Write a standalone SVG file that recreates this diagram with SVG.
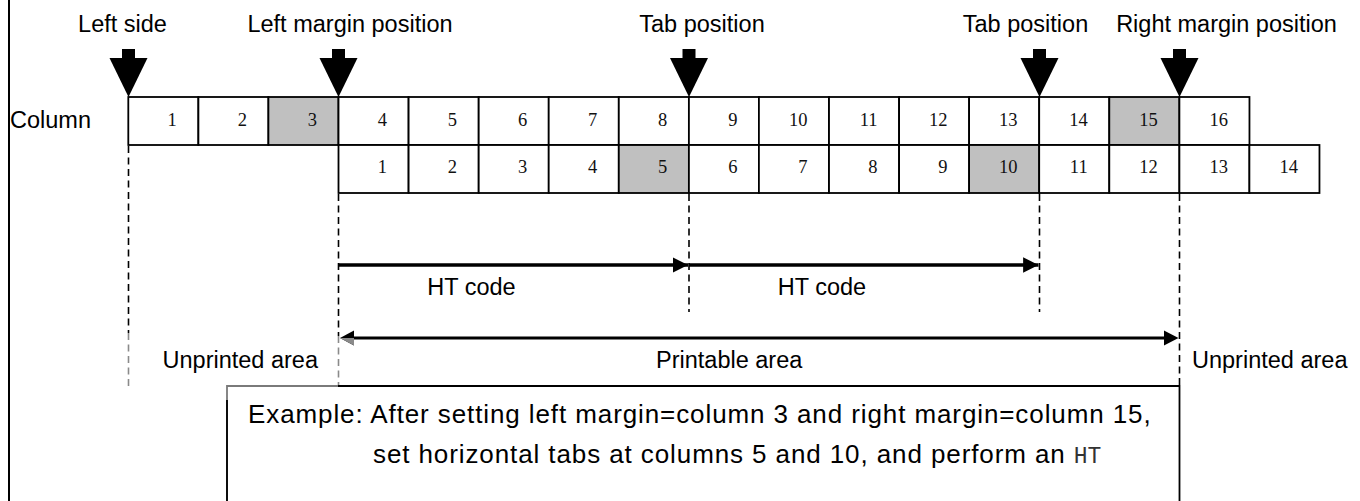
<svg xmlns="http://www.w3.org/2000/svg" width="1360" height="501" viewBox="0 0 1360 501">
  <style>
    .lbl { font-family: "Liberation Sans", Arial, sans-serif; font-size: 23.5px; fill: #000; }
    .num { font-family: "Liberation Serif", "Times New Roman", serif; font-size: 18.5px; fill: #111; text-anchor: end; }
    .cell { fill: #fff; stroke: #000; stroke-width: 1.8; }
    .cell.hl { fill: #c0c0c0; }
    .mark { fill: #000; }
    .dash { fill: none; stroke: #000; stroke-width: 1.6; stroke-dasharray: 7 4.5; }
    .dash.faint { stroke: #8a8a8a; }
    .span { fill: none; stroke: #000; stroke-width: 3.5; }
    .note { font-family: "Liberation Sans", Arial, sans-serif; font-size: 26px; letter-spacing: 0.9px; fill: #000; }
    .mono { font-family: "Liberation Mono", "Courier New", monospace; font-size: 23px; letter-spacing: 0px; fill: #333; }
  </style>
  <defs>
    <marker id="head" viewBox="0 0 10 10" refX="10" refY="5" markerWidth="4.4" markerHeight="4.6" orient="auto" markerUnits="strokeWidth">
      <path d="M0,0 L10,5 L0,10 Z" fill="#000"/>
    </marker>
  </defs>
  <rect width="1360" height="501" fill="#fff"/>

  <!-- page edge -->
  <line x1="9" y1="0" x2="9" y2="501" stroke="#000" stroke-width="2"/>

  <!-- position labels -->
  <g id="labels">
    <text class="lbl" x="122.5" y="32" text-anchor="middle">Left side</text>
    <text class="lbl" x="350" y="32" text-anchor="middle">Left margin position</text>
    <text class="lbl" x="702" y="32" text-anchor="middle">Tab position</text>
    <text class="lbl" x="1025.5" y="32" text-anchor="middle">Tab position</text>
    <text class="lbl" x="1226.5" y="32" text-anchor="middle">Right margin position</text>
    <text class="lbl" x="10" y="128">Column</text>
  </g>

  <!-- down pointers -->
  <g id="pointers">
    <g id="ptr-left-side"><rect class="mark" x="122" y="49" width="13" height="10"/><polygon class="mark" points="109.5,58 147.5,58 128.5,97"/></g>
    <g id="ptr-left-margin"><rect class="mark" x="332" y="49" width="13" height="10"/><polygon class="mark" points="319.5,58 357.5,58 338.5,97"/></g>
    <g id="ptr-tab-1"><rect class="mark" x="682.5" y="49" width="13" height="10"/><polygon class="mark" points="670,58 708,58 689,97"/></g>
    <g id="ptr-tab-2"><rect class="mark" x="1033" y="49" width="13" height="10"/><polygon class="mark" points="1020.5,58 1058.5,58 1039.5,97"/></g>
    <g id="ptr-right-margin"><rect class="mark" x="1173" y="49" width="13" height="10"/><polygon class="mark" points="1160.5,58 1198.5,58 1179.5,97"/></g>
  </g>

  <!-- column row -->
  <g id="column-row">
    <rect class="cell" x="128.3" y="97" width="70.07" height="48"/>
    <rect class="cell" x="198.4" y="97" width="70.07" height="48"/>
    <rect class="cell hl" x="268.4" y="97" width="70.07" height="48"/>
    <rect class="cell" x="338.5" y="97" width="70.07" height="48"/>
    <rect class="cell" x="408.6" y="97" width="70.07" height="48"/>
    <rect class="cell" x="478.7" y="97" width="70.07" height="48"/>
    <rect class="cell" x="548.7" y="97" width="70.07" height="48"/>
    <rect class="cell" x="618.8" y="97" width="70.07" height="48"/>
    <rect class="cell" x="688.9" y="97" width="70.07" height="48"/>
    <rect class="cell" x="758.9" y="97" width="70.07" height="48"/>
    <rect class="cell" x="829.0" y="97" width="70.07" height="48"/>
    <rect class="cell" x="899.1" y="97" width="70.07" height="48"/>
    <rect class="cell" x="969.1" y="97" width="70.07" height="48"/>
    <rect class="cell" x="1039.2" y="97" width="70.07" height="48"/>
    <rect class="cell hl" x="1109.3" y="97" width="70.07" height="48"/>
    <rect class="cell" x="1179.4" y="97" width="70.07" height="48"/>
    <text class="num" x="176.8" y="125.5">1</text>
    <text class="num" x="246.9" y="125.5">2</text>
    <text class="num" x="316.9" y="125.5">3</text>
    <text class="num" x="387" y="125.5">4</text>
    <text class="num" x="457.1" y="125.5">5</text>
    <text class="num" x="527.2" y="125.5">6</text>
    <text class="num" x="597.2" y="125.5">7</text>
    <text class="num" x="667.3" y="125.5">8</text>
    <text class="num" x="737.4" y="125.5">9</text>
    <text class="num" x="807.4" y="125.5">10</text>
    <text class="num" x="877.5" y="125.5">11</text>
    <text class="num" x="947.6" y="125.5">12</text>
    <text class="num" x="1017.6" y="125.5">13</text>
    <text class="num" x="1087.7" y="125.5">14</text>
    <text class="num" x="1157.8" y="125.5">15</text>
    <text class="num" x="1227.9" y="125.5">16</text>
  </g>

  <!-- print position row -->
  <g id="print-row">
    <rect class="cell" x="338.5" y="145" width="70.07" height="48"/>
    <rect class="cell" x="408.6" y="145" width="70.07" height="48"/>
    <rect class="cell" x="478.7" y="145" width="70.07" height="48"/>
    <rect class="cell" x="548.7" y="145" width="70.07" height="48"/>
    <rect class="cell hl" x="618.8" y="145" width="70.07" height="48"/>
    <rect class="cell" x="688.9" y="145" width="70.07" height="48"/>
    <rect class="cell" x="758.9" y="145" width="70.07" height="48"/>
    <rect class="cell" x="829.0" y="145" width="70.07" height="48"/>
    <rect class="cell" x="899.1" y="145" width="70.07" height="48"/>
    <rect class="cell hl" x="969.1" y="145" width="70.07" height="48"/>
    <rect class="cell" x="1039.2" y="145" width="70.07" height="48"/>
    <rect class="cell" x="1109.3" y="145" width="70.07" height="48"/>
    <rect class="cell" x="1179.4" y="145" width="70.07" height="48"/>
    <rect class="cell" x="1249.4" y="145" width="70.07" height="48"/>
    <text class="num" x="387" y="172.5">1</text>
    <text class="num" x="457.1" y="172.5">2</text>
    <text class="num" x="527.2" y="172.5">3</text>
    <text class="num" x="597.2" y="172.5">4</text>
    <text class="num" x="667.3" y="172.5">5</text>
    <text class="num" x="737.4" y="172.5">6</text>
    <text class="num" x="807.4" y="172.5">7</text>
    <text class="num" x="877.5" y="172.5">8</text>
    <text class="num" x="947.6" y="172.5">9</text>
    <text class="num" x="1017.6" y="172.5">10</text>
    <text class="num" x="1087.7" y="172.5">11</text>
    <text class="num" x="1157.8" y="172.5">12</text>
    <text class="num" x="1227.9" y="172.5">13</text>
    <text class="num" x="1297.9" y="172.5">14</text>
  </g>

  <!-- guides and spans -->
  <g id="connectors">
    <line class="dash" x1="128.5" y1="146" x2="128.5" y2="333"/>
    <line class="dash faint" x1="128.5" y1="333" x2="128.5" y2="386"/>
    <line class="dash" x1="338.5" y1="194" x2="338.5" y2="336"/>
    <line class="dash faint" x1="338.5" y1="336" x2="338.5" y2="386"/>
    <line class="dash" x1="689" y1="194" x2="689" y2="312"/>
    <line class="dash" x1="1039.5" y1="194" x2="1039.5" y2="312"/>
    <line class="dash" x1="1179.5" y1="194" x2="1179.5" y2="386"/>

    <line class="span" x1="338.5" y1="265" x2="688" y2="265" marker-end="url(#head)"/>
    <line class="span" x1="689" y1="265" x2="1038.5" y2="265" marker-end="url(#head)"/>

    <line x1="352" y1="338" x2="1166" y2="338" stroke="#000" stroke-width="3"/>
    <polygon points="1178.5,338 1164,330.5 1164,345.5" fill="#000"/>
    <polygon points="340,338 354,330.5 354,345.5" fill="#000"/>
    <polygon points="340,338 354,338 354,345.5" fill="#8a8a8a"/>
  </g>

  <g id="span-labels">
    <text class="lbl" x="471.5" y="295" text-anchor="middle">HT code</text>
    <text class="lbl" x="822" y="295" text-anchor="middle">HT code</text>
    <text class="lbl" x="318" y="368" text-anchor="end">Unprinted area</text>
    <text class="lbl" x="656" y="368">Printable area</text>
    <text class="lbl" x="1192" y="368">Unprinted area</text>
  </g>

  <!-- example note -->
  <g id="example-note">
    <path d="M227,501 V386 H338" fill="none" stroke="#7a7a7a" stroke-width="1.8"/>
    <path d="M338,386 H1179.5 V501" fill="none" stroke="#000" stroke-width="1.8"/>
    <line x1="227" y1="400" x2="227" y2="501" stroke="#000" stroke-width="1.8"/>
    <text class="note" x="248" y="423">Example: After setting left margin=column 3 and right margin=column 15,</text>
    <text class="note" x="373" y="463">set horizontal tabs at columns 5 and 10, and perform an <tspan class="mono">HT</tspan></text>
  </g>
</svg>
